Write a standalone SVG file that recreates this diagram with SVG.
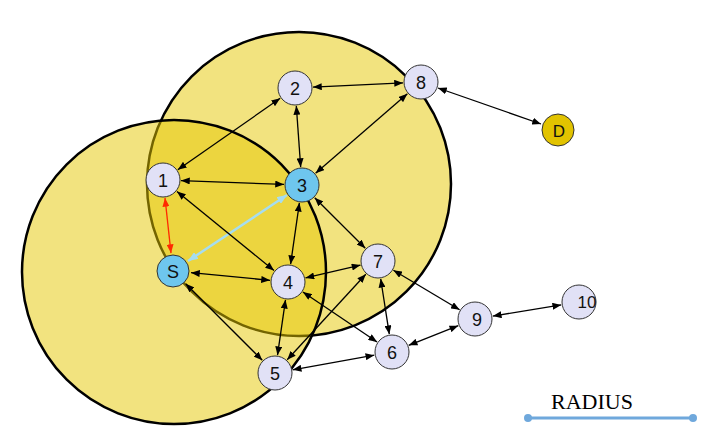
<svg xmlns="http://www.w3.org/2000/svg" width="708" height="442" viewBox="0 0 708 442">
<defs>
<style>
.range{fill:#E6C800;fill-opacity:0.5;stroke:#000;stroke-width:2.5}
.node circle{fill:#E1E1F6;stroke:#333;stroke-width:1}
.node.blue circle{fill:#6EC6EE}
.node.gold circle{fill:#E2C300}
.node text{font-family:"Liberation Sans",Arial,sans-serif;font-size:18px;fill:#111;text-anchor:middle}
.edge{stroke:#000;stroke-width:1.3;fill:none;marker-start:url(#ah);marker-end:url(#ah)}
.edge.red{stroke:#FF2A00;marker-start:url(#ahr);marker-end:url(#ahr)}
.edge.sky{stroke:#A6DDF0;stroke-width:2.5;marker-start:url(#ahb);marker-end:url(#ahb)}
</style>
<marker id="ah" viewBox="0 0 10 8" refX="10" refY="4" markerWidth="9" markerHeight="7" markerUnits="userSpaceOnUse" orient="auto-start-reverse"><path d="M0,0 L10,4 L0,8 Z" fill="#000"/></marker>
<marker id="ahr" viewBox="0 0 10 8" refX="10" refY="4" markerWidth="9" markerHeight="7" markerUnits="userSpaceOnUse" orient="auto-start-reverse"><path d="M0,0 L10,4 L0,8 Z" fill="#FF2A00"/></marker>
<marker id="ahb" viewBox="0 0 10 8" refX="10" refY="4" markerWidth="10" markerHeight="8" markerUnits="userSpaceOnUse" orient="auto-start-reverse"><path d="M0,0 L10,4 L0,8 Z" fill="#A6DDF0"/></marker>
</defs>
<g id="ranges">
<circle class="range" cx="299" cy="184" r="152"/>
<circle class="range" cx="174" cy="272" r="152"/>
</g>
<g id="connectors">
<line class="edge" x1="177.8" y1="169.7" x2="280.2" y2="98.3"/>
<line class="edge" x1="313" y1="87.1" x2="403" y2="82.9"/>
<line class="edge" x1="296.3" y1="105.9" x2="300.7" y2="167.1"/>
<line class="edge" x1="315.6" y1="173.2" x2="407.4" y2="93.8"/>
<line class="edge" x1="438" y1="88" x2="541" y2="124"/>
<line class="edge" x1="181" y1="180.6" x2="284" y2="184.4"/>
<line class="edge red" x1="165" y1="197.9" x2="171" y2="253.1"/>
<line class="edge sky" x1="188" y1="261" x2="287" y2="195"/>
<line class="edge" x1="177" y1="191.4" x2="274" y2="270.6"/>
<line class="edge" x1="191" y1="272.7" x2="270" y2="280.3"/>
<line class="edge" x1="185.7" y1="283.7" x2="262.3" y2="360.3"/>
<line class="edge" x1="299.4" y1="202.8" x2="290.6" y2="264.2"/>
<line class="edge" x1="314.7" y1="197.7" x2="365.3" y2="248.3"/>
<line class="edge" x1="305.5" y1="277.9" x2="360.5" y2="265.1"/>
<line class="edge" x1="285.5" y1="299.8" x2="277.5" y2="355.2"/>
<line class="edge" x1="302.9" y1="292" x2="377.1" y2="342"/>
<line class="edge" x1="287.2" y1="359.8" x2="365.8" y2="274.2"/>
<line class="edge" x1="292.7" y1="369.8" x2="374.3" y2="355.2"/>
<line class="edge" x1="380.7" y1="278.8" x2="389.3" y2="334.2"/>
<line class="edge" x1="393.4" y1="270.2" x2="459.6" y2="309.8"/>
<line class="edge" x1="408.7" y1="345.3" x2="458.3" y2="325.7"/>
<line class="edge" x1="492.8" y1="316.1" x2="561.2" y2="304.9"/>
</g>
<g id="n1" class="node"><circle cx="163" cy="180" r="17"/><text x="163" y="186.5">1</text></g>
<g id="n2" class="node"><circle cx="295" cy="88" r="17"/><text x="295" y="94.5">2</text></g>
<g id="n3" class="node blue"><circle cx="302" cy="185" r="17"/><text x="302" y="191.5">3</text></g>
<g id="n8" class="node"><circle cx="421" cy="82" r="17"/><text x="421" y="88.5">8</text></g>
<g id="nD" class="node gold"><circle cx="558" cy="130" r="16"/><text x="559" y="136.5" style="font-size:17px">D</text></g>
<g id="nS" class="node blue"><circle cx="173" cy="271" r="16"/><text x="173" y="277.5">S</text></g>
<g id="n4" class="node"><circle cx="288" cy="282" r="17"/><text x="288" y="288.5">4</text></g>
<g id="n7" class="node"><circle cx="378" cy="261" r="17"/><text x="378" y="267.5">7</text></g>
<g id="n6" class="node"><circle cx="392" cy="352" r="17"/><text x="392" y="358.5">6</text></g>
<g id="n5" class="node"><circle cx="275" cy="373" r="17"/><text x="275" y="379.5">5</text></g>
<g id="n9" class="node"><circle cx="475" cy="319" r="17"/><text x="477" y="325.5">9</text></g>
<g id="n10" class="node"><circle cx="579" cy="302" r="17"/><text x="587" y="308" style="font-size:17px">10</text></g>
<g id="radius">
<text x="551" y="409" style="font-family:'Liberation Serif','Times New Roman',serif;font-size:22px;fill:#000">RADIUS</text>
<line x1="528" y1="418" x2="693" y2="418" stroke="#6FA8DC" stroke-width="3"/>
<circle cx="528" cy="418" r="4" fill="#6FA8DC"/>
<circle cx="693" cy="418" r="4" fill="#6FA8DC"/>
</g>
</svg>
